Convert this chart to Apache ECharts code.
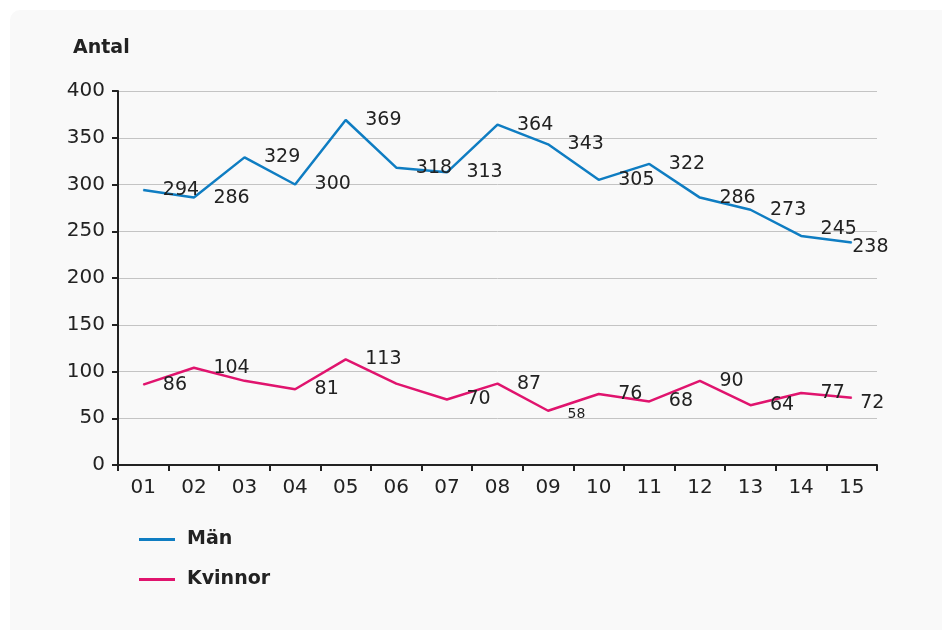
<!DOCTYPE html>
<html>
<head>
<meta charset="utf-8">
<script src="https://cdn.jsdelivr.net/npm/echarts@6/dist/echarts.min.js"></script>
<style>
  html, body { margin: 0; padding: 0; background: #ffffff; }
  .card {
    position: absolute;
    left: 10px;
    top: 10px;
    width: 932px;
    height: 620px;
    background: #f9f9f9;
    border-radius: 10px 0 0 0;
  }
  #chart { width: 942px; height: 630px; position: absolute; left: 0; top: 0; }
</style>
</head>
<body>
<div class="card"></div>
<div id="chart"></div>
<script>
// data
const months = ['01', '02', '03', '04', '05', '06', '07', '08', '09', '10', '11', '12', '13', '14', '15']
const maen = [294, 286, 329, 300, 369, 318, 313, 364, 343, 305, 322, 286, 273, 245, 238]
const kvinnor = [86, 104, 90, 81, 113, 87, 70, 87, 58, 76, 68, 90, 64, 77, 72]
const kvinnorHiddenLabels = ['03', '06']

const textColor = '#222222'
const font = 'DejaVu Sans'

// label tweaks per point
const maenData = maen.map((v, i) => {
  const item = { value: v }
  if (i === 13) item.label = { offset: [0, -7] }
  if (i === 14) item.label = { distance: 0, offset: [0, 5] }
  return item
})
const kvinnorData = kvinnor.map((v, i) => {
  const item = { value: v }
  if (kvinnorHiddenLabels.includes(months[i])) item.label = { show: false }
  if (v === 58) item.label = { fontSize: 14, offset: [0, 4] }
  if (i === 14) item.label = { distance: 8, offset: [0, 5] }
  return item
})

const chart = echarts.init(document.getElementById('chart'))

const option = {
  animation: false,
  backgroundColor: 'transparent',
  textStyle: { fontFamily: font },
  title: {
    text: 'Antal',
    left: 73,
    top: 39,
    padding: 0,
    textStyle: { fontFamily: font, fontSize: 19, fontWeight: 600, color: textColor }
  },
  grid: {
    left: 118,
    right: 65,
    top: 91,
    bottom: 165,
    containLabel: false
  },
  legend: {
    orient: 'vertical',
    left: 139,
    top: 530,
    padding: 0,
    icon: 'rect',
    itemWidth: 36,
    itemHeight: 3,
    itemGap: 21,
    textStyle: { fontFamily: font, fontSize: 19, fontWeight: 600, color: textColor, padding: [0, 0, 0, 7] },
    data: ['Män', 'Kvinnor']
  },
  xAxis: {
    type: 'category',
    data: months,
    boundaryGap: true,
    axisLine: { lineStyle: { color: textColor, width: 2 } },
    axisTick: { show: true, length: 6, lineStyle: { color: textColor, width: 2 } },
    axisLabel: { fontFamily: font, fontSize: 20, color: textColor, margin: 13 }
  },
  yAxis: {
    type: 'value',
    min: 0,
    max: 400,
    interval: 50,
    axisLine: { show: true, lineStyle: { color: textColor, width: 2 } },
    axisTick: { show: true, length: 6, lineStyle: { color: textColor, width: 2 } },
    axisLabel: { fontFamily: font, fontSize: 20, color: textColor, margin: 13 },
    splitLine: { lineStyle: { color: '#c4c4c4', width: 1 } }
  },
  series: [
    {
      name: 'Män',
      type: 'line',
      data: maenData,
      symbol: 'circle',
      symbolSize: 1,
      color: '#0f7dc2',
      lineStyle: { width: 2.5, color: '#0f7dc2' },
      label: { show: true, position: 'right', distance: 19, fontFamily: font, fontSize: 19, color: textColor },
      emphasis: { disabled: true }
    },
    {
      name: 'Kvinnor',
      type: 'line',
      data: kvinnorData,
      symbol: 'circle',
      symbolSize: 1,
      color: '#e0146e',
      lineStyle: { width: 2.5, color: '#e0146e' },
      label: { show: true, position: 'right', distance: 19, fontFamily: font, fontSize: 19, color: textColor },
      emphasis: { disabled: true }
    }
  ]
}

chart.setOption(option)
</script>
</body>
</html>
